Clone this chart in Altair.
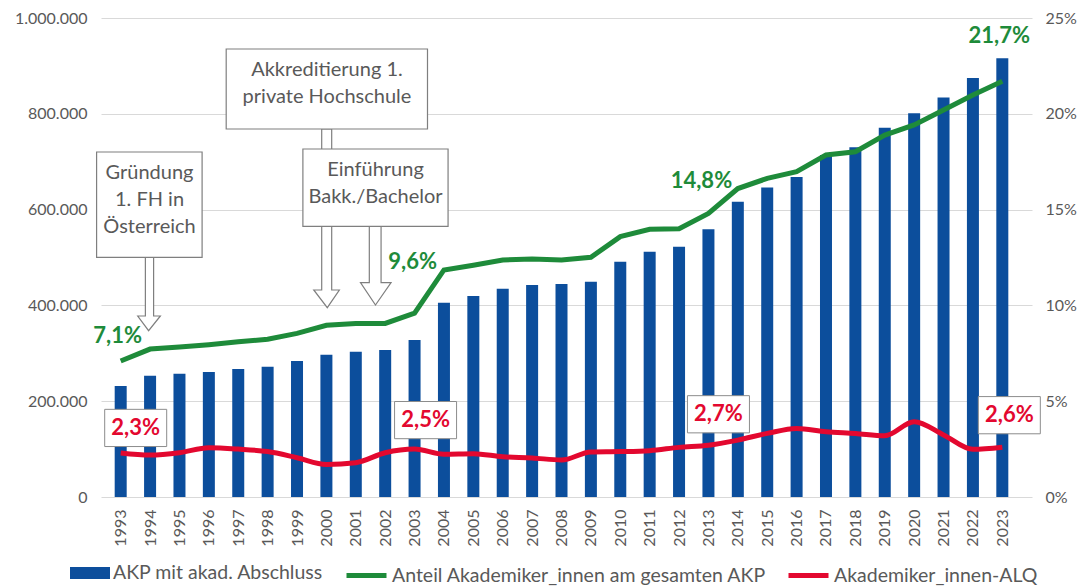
import altair as alt
import pandas as pd

# ---------------- data ----------------
years = list(range(1993, 2024))
akp = [231700, 253200, 257400, 261000, 267200, 272000, 283900, 297100, 303300, 306900,
       327800, 405600, 419600, 434900, 442600, 444700, 449500, 491200, 512100, 522500,
       558800, 616500, 646000, 668000, 714000, 730000, 771000, 801000, 834000, 875000, 916000]
share = [7.1, 7.72, 7.83, 7.95, 8.1, 8.23, 8.54, 8.96, 9.06, 9.06,
         9.6, 11.85, 12.1, 12.37, 12.42, 12.37, 12.51, 13.59, 13.97, 14.0,
         14.8, 16.1, 16.63, 16.98, 17.85, 18.02, 18.89, 19.42, 20.2, 20.98, 21.7]
alq = [2.3, 2.19, 2.31, 2.57, 2.5, 2.37, 2.05, 1.7, 1.79, 2.31,
       2.5, 2.23, 2.26, 2.1, 2.04, 1.93, 2.35, 2.37, 2.42, 2.59,
       2.7, 2.97, 3.32, 3.58, 3.41, 3.32, 3.2, 3.93, 3.24, 2.49, 2.6]

series_names = ["AKP mit akad. Abschluss",
                "Anteil Akademiker_innen am gesamten AKP",
                "Akademiker_innen-ALQ"]
series_colors = ["#0C4E9C", "#1E8B3A", "#E3082F"]

label_years = [1993, 2003, 2013, 2023]

# callout annotations (anchored in data units: year, left-axis value)
callout_lines = [["Gründung", "1. FH in", "Österreich"],
                 ["Akkreditierung 1.", "private Hochschule"],
                 ["Einführung", "Bakk./Bachelor"]]
callout_text_pos = [(1993.98, 676400), (2000.02, 891400), (2001.67, 682700)]
callout_boxes = [(1992.18, 1995.77, 500400, 720300),
                 (1996.59, 2003.44, 768300, 935300),
                 (1999.20, 2004.14, 565100, 726500)]
# arrows: stem x1, stem x2, top, head base, head x1, head x2, tip x, tip y
callout_arrows = [(1993.84, 1994.12, 500400, 377900, 1993.58, 1994.35, 1993.95, 347200),
                  (1999.84, 2000.18, 768300, 432200, 1999.57, 2000.44, 2000.03, 395200),
                  (2001.46, 2001.86, 565100, 447400, 2001.16, 2002.20, 2001.67, 400800)]

# label offsets (pixels)
green_dx = [-3, -2, -7, -3]
green_dy = [-25, -51, -32, -45]
red_dx = [15, 11, 10, 7]
red_dy = [-25, -29, -31, -32]

# legend placement (pixels relative to plot origin)
legend_x = [-31, 243, 685]
legend_y = 535

# ---------------- build ----------------
df = pd.DataFrame({"year": years, "akp": akp, "share": share, "alq": alq})

FONT = "Lato"
GRAY = "#595959"
XDOM = [1992.5, 2023.84]
xscale = alt.Scale(domain=XDOM, nice=False, zero=False)
xaxis = alt.Axis(values=years, format="d", labelAngle=270, labelFont=FONT,
                 labelFontSize=16, labelColor=GRAY, labelPadding=12,
                 ticks=False, domain=False, grid=False, title=None)
xenc = alt.X("year:Q", scale=xscale, axis=xaxis)
yleft = alt.Scale(domain=[0, 1000000], nice=False)
yright = alt.Scale(domain=[0, 25], nice=False)


def make_legend(i, bar=False):
    common = dict(title=None, orient="none", direction="horizontal",
                  legendX=legend_x[i], legendY=legend_y,
                  labelFont=FONT, labelFontSize=19.5, labelColor=GRAY, labelOffset=3,
                  labelLimit=0, symbolSize=1600, symbolOpacity=1)
    if bar:
        return alt.Legend(symbolType="M-1,-0.3H1V0.3H-1Z", symbolStrokeWidth=0, **common)
    return alt.Legend(symbolType="stroke", symbolStrokeWidth=4.8, **common)


base = alt.Chart(df)

bars = base.mark_bar(size=12).transform_calculate(
    series="'%s'" % series_names[0]
).encode(
    x=xenc,
    y=alt.Y("akp:Q", scale=yleft,
            axis=alt.Axis(values=[0, 200000, 400000, 600000, 800000, 1000000],
                          labelExpr="replace(format(datum.value, ',.0f'), regexp(',', 'g'), '.')",
                          labelFont=FONT, labelFontSize=16, labelColor=GRAY, labelPadding=14,
                          ticks=False, domain=False, grid=True, gridColor="#D9D9D9",
                          title=None)),
    color=alt.Color("series:N", scale=alt.Scale(domain=[series_names[0]], range=[series_colors[0]]),
                    legend=make_legend(0, bar=True)),
)

green = base.mark_line(strokeWidth=5).transform_calculate(
    series="'%s'" % series_names[1]
).encode(
    x=xenc,
    y=alt.Y("share:Q", scale=yright,
            axis=alt.Axis(orient="right", values=[0, 5, 10, 15, 20, 25],
                          labelExpr="datum.value + '%'", labelFont=FONT, labelFontSize=16,
                          labelColor=GRAY, labelPadding=13, ticks=False, domain=False,
                          grid=False, title=None)),
    color=alt.Color("series:N", scale=alt.Scale(domain=[series_names[1]], range=[series_colors[1]]),
                    legend=make_legend(1)),
)

red = base.mark_line(strokeWidth=5, interpolate="monotone").transform_calculate(
    series="'%s'" % series_names[2]
).encode(
    x=xenc,
    y=alt.Y("alq:Q", scale=yright, axis=None),
    color=alt.Color("series:N", scale=alt.Scale(domain=[series_names[2]], range=[series_colors[2]]),
                    legend=make_legend(2)),
)

# callouts
arrow_rows = []
for i, (sx1, sx2, top, hb, hx1, hx2, tx, ty) in enumerate(callout_arrows):
    pts = [(sx1, top), (sx1, hb), (hx1, hb), (tx, ty), (hx2, hb), (sx2, hb), (sx2, top), (sx1, top)]
    for j, (px, py) in enumerate(pts):
        arrow_rows.append({"id": i, "o": j, "year": px, "y": py})
arrows = alt.Chart(pd.DataFrame(arrow_rows)).mark_line(
    fill="white", stroke="#7F7F7F", strokeWidth=1.2
).encode(
    x=xenc,
    y=alt.Y("y:Q", scale=yleft, axis=None),
    detail="id:N", order="o:Q",
)

box_df = pd.DataFrame([{"year": b[0], "x2": b[1], "y1": b[2], "y2": b[3]} for b in callout_boxes])
boxes = alt.Chart(box_df).mark_rect(fill="white", stroke="#7F7F7F", strokeWidth=1.2).encode(
    x=xenc,
    x2="x2:Q",
    y=alt.Y("y1:Q", scale=yleft, axis=None),
    y2="y2:Q",
)

callout_texts = []
for lines, (tx, ty) in zip(callout_lines, callout_text_pos):
    t = alt.Chart(pd.DataFrame({"year": [tx], "y": [ty]})).mark_text(
        text=lines, font=FONT, fontSize=20, color=GRAY, lineHeight=27,
        align="center", baseline="middle"
    ).encode(
        x=xenc,
        y=alt.Y("y:Q", scale=yleft, axis=None),
    )
    callout_texts.append(t)

# value labels
green_labels = []
red_boxes = []
red_labels = []
for k, yr in enumerate(label_years):
    d = base.transform_filter(alt.datum.year == yr).transform_calculate(
        gl="replace(format(datum.share, '.1f'), '.', ',') + '%'",
        rl="replace(format(datum.alq, '.1f'), '.', ',') + '%'",
    )
    green_labels.append(d.mark_text(
        font=FONT, fontSize=22, fontWeight="bold", color=series_colors[1],
        dx=green_dx[k], dy=green_dy[k], align="center", baseline="middle"
    ).encode(x=xenc, y=alt.Y("share:Q", scale=yright, axis=None), text="gl:N"))
    red_boxes.append(d.mark_point(
        shape="M-1,-0.6H1V0.6H-1Z", size=3844, filled=True, fill="white",
        stroke="#8C8C8C", strokeWidth=1, opacity=1, xOffset=red_dx[k], yOffset=red_dy[k]
    ).encode(x=xenc, y=alt.Y("alq:Q", scale=yright, axis=None)))
    red_labels.append(d.mark_text(
        font=FONT, fontSize=22, fontWeight="bold", color=series_colors[2],
        dx=red_dx[k], dy=red_dy[k], align="center", baseline="middle"
    ).encode(x=xenc, y=alt.Y("alq:Q", scale=yright, axis=None), text="rl:N"))

chart = alt.layer(
    bars, arrows, boxes, *callout_texts, green, red, *red_boxes, *red_labels, *green_labels
).resolve_scale(y="independent", color="independent").properties(
    width=931, height=479, padding={"left": 6, "top": 2, "right": 0, "bottom": 0}
).configure_view(stroke=None).configure_axisX(labelFontSize=16, labelFont=FONT)

chart.save("out.html", embed_options={"renderer": "svg", "actions": False})
